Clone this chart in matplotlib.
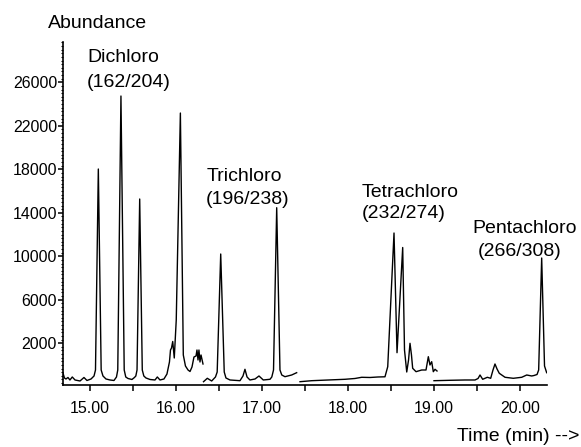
import matplotlib
matplotlib.use("Agg")
from matplotlib import pyplot as plt
from matplotlib.ticker import MultipleLocator, FixedLocator

plt.rcParams['font.family'] = ['Liberation Sans', 'DejaVu Sans']

# trace vertices: time (min) / abundance
t_di = [14.686, 14.703, 14.721, 14.744, 14.767, 14.794, 14.826, 14.884, 14.930, 14.965,
        15.012, 15.047, 15.064, 15.097, 15.130, 15.151, 15.186, 15.233, 15.279, 15.308,
        15.323, 15.360, 15.398, 15.416, 15.442, 15.488, 15.517, 15.533, 15.547, 15.578,
        15.608, 15.626, 15.651, 15.698, 15.756, 15.783, 15.814, 15.860, 15.895, 15.924,
        15.936, 15.948, 15.962, 15.980, 16.003, 16.051, 16.085, 16.110, 16.140, 16.163,
        16.186, 16.209, 16.233, 16.244, 16.256, 16.267, 16.279, 16.291, 16.314]
a_di = [-736, -1195, -1287, -1149, -1379, -1103, -1379, -1471, -1149, -1425,
        -1287, -1011, -460, 18022, -460, -1011, -1287, -1379, -1425, -1103,
        -460, 24735, -460, -1103, -1241, -1333, -1149, -1011, -460, 15264,
        -460, -1011, -1195, -1333, -1379, -1103, -1379, -1287, -828, 276,
        1379, 1563, 2161, 644, 4138, 23171, 920, -92, -460, -598,
        -184, 736, 828, 1379, 460, 1379, 276, 920, 92]

t_tri = [16.320, 16.364, 16.415, 16.459, 16.479, 16.520, 16.561, 16.581, 16.628, 16.744,
         16.779, 16.802, 16.826, 16.860, 16.919, 16.965, 17.015, 17.093, 17.114, 17.134,
         17.171, 17.209, 17.230, 17.267, 17.345, 17.403]
a_tri = [-1536, -1223, -1471, -1103, -644, 10206, -644, -1195, -1379, -1444,
         -1011, -395, -1103, -1379, -1287, -1011, -1379, -1315, -1103, -460,
         14464, -460, -920, -1076, -920, -708]

t_tetra = [17.442, 17.578, 17.771, 17.965, 18.081, 18.159, 18.256, 18.349, 18.430, 18.462,
           18.535, 18.570, 18.636, 18.657, 18.683, 18.704, 18.721, 18.738, 18.752, 18.791,
           18.857, 18.907, 18.934, 18.953, 18.973, 18.992, 19.012, 19.035]
a_tetra = [-1536, -1444, -1379, -1315, -1241, -1131, -1149, -1103, -1085, -156,
           12137, 1131, 10804, 1379, -644, 460, 1995, 920, -303, -616,
           -460, -460, 763, 0, 303, -616, -395, -552]

t_penta = [19.000, 19.186, 19.360, 19.477, 19.512, 19.535, 19.566, 19.620, 19.659, 19.686,
           19.709, 19.733, 19.759, 19.826, 19.922, 20.020, 20.078, 20.136, 20.163, 20.198,
           20.217, 20.252, 20.285, 20.310]
a_penta = [-1444, -1407, -1379, -1379, -1241, -920, -1315, -1131, -1223, -460,
           92, -368, -763, -1131, -1223, -1131, -920, -1011, -966, -874,
           -460, 9839, -92, -708]

# group labels: (text, time, abundance)
labels = [("Dichloro", 14.965, 28321), ("(162/204)", 14.965, 26022),
          ("Trichloro", 16.360, 17379), ("(196/238)", 16.349, 15264),
          ("Tetrachloro", 18.159, 15907), ("(232/274)", 18.159, 13976),
          ("Pentachloro", 19.450, 12597), ("(266/308)", 19.512, 10418)]

fig = plt.figure(figsize=(5.81, 4.47), dpi=100)
ax = fig.add_axes([0.1084, 0.1387, 0.8331, 0.768])

for t, a in [(t_di, a_di), (t_tri, a_tri), (t_tetra, a_tetra), (t_penta, a_penta)]:
    ax.plot(t, a, color="black", lw=1.0)

for txt, x, y in labels:
    ax.text(x, y, txt, fontsize=14, ha="left", va="center")

ax.set_xlim(14.686, 20.314)
ax.set_ylim(-1840, 29730)

ax.spines["top"].set_visible(False)
ax.spines["right"].set_visible(False)
for s in ["left", "bottom"]:
    ax.spines[s].set_linewidth(1.2)

ax.xaxis.set_major_locator(FixedLocator([15, 16, 17, 18, 19, 20]))
ax.xaxis.set_minor_locator(FixedLocator([15.5, 16.5, 17.5, 18.5, 19.5]))
ax.set_xticklabels(["15.00", "16.00", "17.00", "18.00", "19.00", "20.00"])
ax.tick_params(axis="x", which="both", length=4.3, width=1.1, pad=7, labelsize=11.5)

ax.yaxis.set_major_locator(FixedLocator(list(range(2000, 26001, 4000))))
ax.yaxis.set_minor_locator(MultipleLocator(4000 / 12))
ax.tick_params(axis="y", which="major", length=3.3, width=1.1, pad=1, labelsize=11.5)
ax.tick_params(axis="y", which="minor", length=1.6, width=0.8)

fig.text(0.0832, 0.9485, "Abundance", fontsize=14, ha="left", va="center")
fig.text(0.9966, 0.0224, "Time (min) -->", fontsize=14, ha="right", va="center")

fig.savefig("out.png", dpi=100)
